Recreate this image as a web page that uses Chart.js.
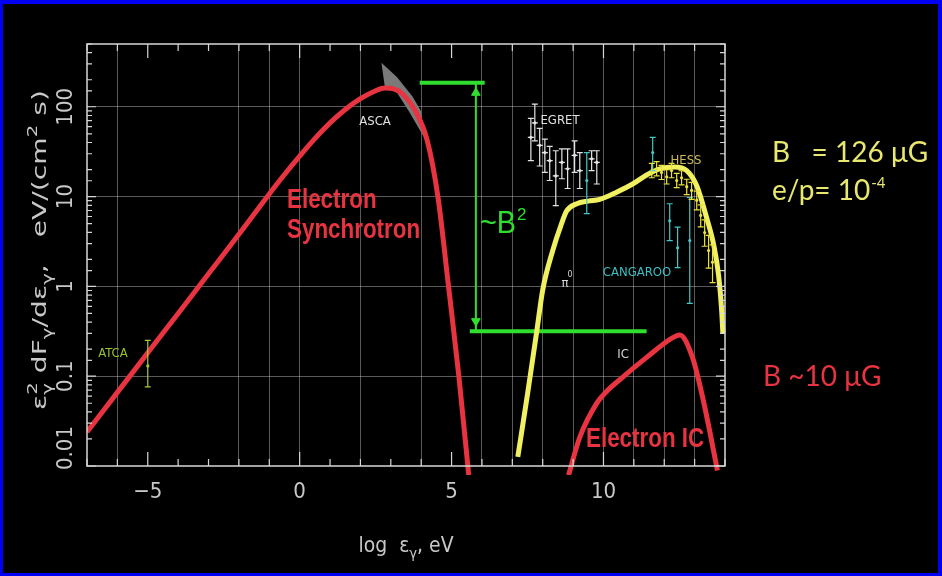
<!DOCTYPE html>
<html>
<head>
<meta charset="utf-8">
<script src="https://cdn.jsdelivr.net/npm/chart.js@4.4.1/dist/chart.umd.min.js"></script>
<style>
  html, body { margin: 0; padding: 0; background: #000; overflow: hidden; }
  canvas { display: block; }
</style>
</head>
<body>
<canvas id="sed" width="942" height="576"></canvas>
<script>
// ---- axes ----
const xMin = -7, xMax = 14;
const yMin = 0.01, yMax = 500;
const xTickLabels = [-5, 0, 5, 10];
const yTickValues = [0.01, 0.1, 1, 10, 100];
const yTickLabels = ['0.01', '0.1', '1', '10', '100'];
const xGridValues = [-6, -2, -1, 0, 2, 4, 6, 7, 8, 9, 10, 11, 12, 13];

// ---- model curves: log photon energy (eV) vs e^2 dF/de (eV/(cm^2 s)) ----
const synchX = [-7.0, -6.0, -5.0, -4.0, -3.0, -2.0, -1.0, -0.5, 0.0, 0.5, 1.0, 1.5, 2.0, 2.5, 2.8, 3.1, 3.4, 3.8, 4.2, 4.55, 4.9, 5.24, 5.58];
const synchY = [0.024, 0.066, 0.182, 0.50, 1.38, 3.8, 10.7, 17.6, 28.2, 44.2, 66.1, 93.3, 123, 151, 162, 158, 138, 91, 42, 10, 1.0, 0.1, 0.007];

const icX = [8.85, 9.22, 9.78, 10.1, 10.53, 11.42, 12.28, 12.51, 12.93, 13.26, 13.49, 13.75];
const icY = [0.0079, 0.0209, 0.0501, 0.0676, 0.0912, 0.162, 0.269, 0.288, 0.162, 0.0589, 0.0251, 0.0089];

const pionX = [7.18, 7.5, 7.8, 8.0, 8.33, 8.6, 8.79, 9.12, 9.5, 9.88, 10.43, 10.96, 11.42, 11.85, 12.34, 12.74, 13.07, 13.39, 13.63, 13.79, 13.89, 13.93];
const pionY = [0.0126, 0.063, 0.309, 0.912, 2.51, 4.79, 6.92, 8.32, 8.91, 9.33, 11.2, 13.8, 17.4, 20.4, 21.4, 19.5, 13.2, 5.89, 2.88, 1.32, 0.537, 0.302];

// ASCA butterfly (closed outline)
const ascaX = [2.69, 3.20, 3.72, 3.99, 4.12, 3.63, 3.20, 2.80, 2.69];
const ascaY = [309, 215, 129, 90, 44, 85, 144, 170, 309];

// ~B^2 gap marker
const b2TopX = [3.95, 6.09], b2TopY = [185, 185];
const b2BottomX = [5.6, 11.42], b2BottomY = [0.316, 0.316];
const b2StemX = [5.8, 5.8], b2StemY = [185, 0.316];
const b2HeadX = [5.8, 5.8], b2HeadY = [143, 0.41];

// ---- measurements ----
const atcaX = [-5.0], atcaY = [0.13], atcaLo = [0.076], atcaHi = [0.25];

const egretX  = [7.61, 7.74, 7.90, 8.07, 8.23, 8.43, 8.63, 8.82, 9.05, 9.22, 9.61, 9.78];
const egretY  = [45.7, 66.1, 37.2, 30.9, 25.1, 17.0, 24.0, 20.4, 28.8, 19.5, 26.3, 24.0];
const egretLo = [25.1, 41.7, 21.9, 18.6, 15.1, 7.94, 15.8, 12.3, 18.6, 12.3, 19.5, 13.8];
const egretHi = [74.1, 107, 57.5, 43.7, 36.3, 32.4, 33.9, 33.9, 41.7, 30.9, 32.4, 32.4];

const cangX  = [9.45, 11.62, 12.18, 12.44, 12.84];
const cangY  = [15.1, 30.9, 5.37, 2.69, 3.24];
const cangLo = [6.46, 19.5, 3.24, 1.62, 0.646];
const cangHi = [30.9, 45.7, 8.32, 4.57, 9.77];

const hessX  = [11.59, 11.75, 11.91, 12.08, 12.24, 12.41, 12.57, 12.74, 12.90, 13.07, 13.20, 13.33, 13.46, 13.59];
const hessY  = [19.5, 20.4, 18.6, 16.6, 19.5, 15.1, 16.2, 12.9, 11.7, 9.12, 6.17, 3.98, 2.51, 1.86];
const hessLo = [16.2, 17.0, 15.5, 13.8, 16.2, 12.6, 13.5, 10.5, 9.3, 7.1, 4.6, 2.8, 1.6, 1.1];
const hessHi = [23.4, 24.5, 22.3, 19.9, 23.4, 18.1, 19.4, 15.6, 14.4, 11.5, 8.1, 5.5, 3.7, 2.9];

const pts = (xs, ys) => xs.map((x, i) => ({ x, y: ys[i] }));

// ---- colours & fonts ----
const RED = 'rgb(232,52,64)';
const YELLOW = 'rgb(240,240,96)';
const GREEN = 'rgb(48,222,48)';
const AXIS = 'rgb(200,200,200)';
const NARROW = '"Liberation Sans Narrow", "DejaVu Sans Condensed", "Liberation Sans", sans-serif';
const PARAM = 'Lato, "Open Sans", sans-serif';

function isDecade(v) {
  const l = Math.log10(v);
  return Math.abs(l - Math.round(l)) < 1e-6;
}

function putText(ctx, s, x, y, o) {
  ctx.save();
  ctx.font = o.font;
  ctx.fillStyle = o.color;
  ctx.textAlign = o.align || 'left';
  ctx.textBaseline = o.base || 'alphabetic';
  ctx.translate(x, y);
  if (o.sx) ctx.scale(o.sx, 1);
  ctx.fillText(s, 0, 0);
  const w = ctx.measureText(s).width * (o.sx || 1);
  ctx.restore();
  return w;
}

// rich text run along the current x direction; segs: {t, s(0 base, 1 sup, -1 sub), stack}
function richRun(ctx, segs, size, family, length) {
  const small = size * 0.7;
  let w = 0;
  const laid = [];
  for (const g of segs) {
    ctx.font = (g.s ? small : size) + 'px ' + family;
    const m = ctx.measureText(g.t).width;
    if (g.stack) {
      const prev = laid[laid.length - 1];
      laid.push({ ...g, x: prev.x });
      w = Math.max(w, prev.x + m);
    } else {
      laid.push({ ...g, x: w });
      w += m;
    }
  }
  const k = length ? length / w : 1;
  ctx.save();
  ctx.scale(k, 1);
  ctx.translate(-w / 2, 0);
  for (const g of laid) {
    ctx.font = (g.s ? small : size) + 'px ' + family;
    const dy = g.s === 1 ? -size * 0.45 : g.s === -1 ? size * 0.3 : 0;
    ctx.fillText(g.t, g.x, dy);
  }
  ctx.restore();
}

const decor = {
  id: 'decor',
  beforeDraw(chart) {
    const { ctx, width, height } = chart;
    ctx.save();
    ctx.fillStyle = '#0000f4';
    ctx.fillRect(0, 0, width, height);
    ctx.fillStyle = '#000';
    ctx.fillRect(3, 4, width - 7, height - 7);
    ctx.restore();
  },
  afterDatasetsDraw(chart) {
    const { ctx } = chart;
    const xs = chart.scales.x, ys = chart.scales.y;
    ctx.save();
    chart.data.datasets.forEach(ds => {
      if (!ds.errLo) return;
      ctx.strokeStyle = ds.borderColor;
      ctx.lineWidth = 1.2;
      ds.data.forEach((p, i) => {
        const px = xs.getPixelForValue(p.x);
        const py = ys.getPixelForValue(p.y);
        const lo = ys.getPixelForValue(ds.errLo[i]);
        const hi = ys.getPixelForValue(ds.errHi[i]);
        ctx.beginPath();
        ctx.moveTo(px, lo); ctx.lineTo(px, hi);
        ctx.moveTo(px - 3, lo); ctx.lineTo(px + 3, lo);
        ctx.moveTo(px - 3, hi); ctx.lineTo(px + 3, hi);
        if (ds.binHalf) {
          const a = xs.getPixelForValue(p.x - ds.binHalf), b = xs.getPixelForValue(p.x + ds.binHalf);
          ctx.moveTo(a, py); ctx.lineTo(b, py);
        }
        ctx.stroke();
      });
    });
    ctx.restore();
  },
  afterDraw(chart) {
    const { ctx, chartArea: a } = chart;
    const xs = chart.scales.x, ys = chart.scales.y;
    ctx.save();

    // frame
    ctx.strokeStyle = 'rgb(215,215,215)';
    ctx.lineWidth = 1.5;
    ctx.strokeRect(a.left, a.top, a.right - a.left, a.bottom - a.top);

    // inward ticks
    ctx.lineWidth = 1.2;
    ctx.beginPath();
    xs.ticks.forEach(t => {
      const px = xs.getPixelForValue(t.value);
      const len = xTickLabels.includes(t.value) ? 14 : 7;
      ctx.moveTo(px, a.bottom); ctx.lineTo(px, a.bottom - len);
      ctx.moveTo(px, a.top); ctx.lineTo(px, a.top + len);
    });
    ys.ticks.forEach(t => {
      const py = ys.getPixelForValue(t.value);
      const len = isDecade(t.value) ? 9 : 5;
      ctx.moveTo(a.left, py); ctx.lineTo(a.left + len, py);
      ctx.moveTo(a.right, py); ctx.lineTo(a.right - len, py);
    });
    ctx.stroke();

    // x tick labels
    xTickLabels.forEach(v => {
      putText(ctx, String(v).replace('-', '\u2212'), xs.getPixelForValue(v), a.bottom + 15,
        { font: '22px ' + NARROW, color: AXIS, align: 'center', base: 'top' });
    });

    // y tick labels, written upward
    ctx.font = '22px ' + NARROW;
    yTickValues.forEach((v, i) => {
      let py = ys.getPixelForValue(v);
      const half = ctx.measureText(yTickLabels[i]).width / 2;
      if (py + half > a.bottom + 4) py = a.bottom + 4 - half;
      ctx.save();
      ctx.translate(a.left - 21, py);
      ctx.rotate(-Math.PI / 2);
      ctx.fillStyle = AXIS;
      ctx.textAlign = 'center';
      ctx.textBaseline = 'middle';
      ctx.fillText(yTickLabels[i], 0, 0);
      ctx.restore();
    });

    // y title
    ctx.save();
    ctx.fillStyle = AXIS;
    ctx.translate(46, 250);
    ctx.rotate(-Math.PI / 2);
    richRun(ctx, [
      { t: '\u03b5', s: 0 }, { t: '2', s: 1 }, { t: '\u03b3', s: -1, stack: true },
      { t: ' dF', s: 0 }, { t: '\u03b3', s: -1 }, { t: '/d\u03b5', s: 0 }, { t: '\u03b3', s: -1 },
      { t: ',   eV/(cm', s: 0 }, { t: '2', s: 1 }, { t: ' s)', s: 0 }
    ], 19, NARROW, 320);
    ctx.restore();

    // x title
    ctx.save();
    ctx.fillStyle = AXIS;
    ctx.translate(406, 552);
    richRun(ctx, [
      { t: 'log  \u03b5', s: 0 }, { t: '\u03b3', s: -1 }, { t: ', eV', s: 0 }
    ], 21, NARROW, 95);
    ctx.restore();

    // instrument labels
    const small = '13px ' + NARROW;
    const lab = (s, x, y, c) => putText(ctx, s, x, y, { font: small, color: c, align: 'center', base: 'middle' });
    lab('ASCA', 375, 122, 'rgb(225,225,225)');
    lab('EGRET', 560, 121, 'rgb(225,225,225)');
    lab('HESS', 686, 161, 'rgb(205,185,90)');
    lab('CANGAROO', 637, 273, 'rgb(60,190,195)');
    lab('IC', 623, 355, 'rgb(215,215,215)');
    lab('ATCA', 113, 354, 'rgb(150,195,45)');
    putText(ctx, '\u03c0', 565, 284, { font: '13px ' + NARROW, color: 'rgb(215,215,215)', align: 'center', base: 'middle' });
    putText(ctx, '0', 570, 275, { font: '9px ' + NARROW, color: 'rgb(215,215,215)', align: 'center', base: 'middle' });

    // curve names
    const boldRed = { font: 'bold 28px "Liberation Sans", Arial, sans-serif', color: RED, sx: 0.8 };
    putText(ctx, 'Electron', 287, 208, boldRed);
    putText(ctx, 'Synchrotron', 287, 238, boldRed);
    putText(ctx, 'Electron IC', 586, 447, boldRed);

    // ~B^2
    const bw = putText(ctx, '~B', 480, 233, { font: '32px "Liberation Sans", sans-serif', color: GREEN, sx: 0.9 });
    putText(ctx, '2', 480 + bw + 1, 220, { font: '17px "Liberation Sans", sans-serif', color: GREEN });

    // parameters
    const paramColor = 'rgb(232,232,112)';
    putText(ctx, 'B   = 126 \u03bcG', 772, 162, { font: '28px ' + PARAM, color: paramColor });
    const ew = putText(ctx, 'e/p= 10', 772, 200, { font: '28px ' + PARAM, color: paramColor });
    putText(ctx, '-4', 772 + ew + 1, 188, { font: '15px ' + PARAM, color: paramColor });
    putText(ctx, 'B ~10 \u03bcG', 763, 386, { font: '28px ' + PARAM, color: RED });

    ctx.restore();
  }
};

const lineStyle = (color, width) => ({
  borderColor: color, backgroundColor: color, borderWidth: width,
  pointRadius: 0, showLine: true, fill: false, cubicInterpolationMode: 'monotone'
});

const errStyle = (color) => ({
  borderColor: color, backgroundColor: color, showLine: false,
  pointRadius: 1.6, pointBorderWidth: 0
});

new Chart(document.getElementById('sed'), {
  type: 'line',
  data: {
    datasets: [
      { ...lineStyle(RED, 5), data: pts(synchX, synchY), order: 1, clip: { left: 0, top: 5, right: 3, bottom: 9 } },
      { ...lineStyle(RED, 5), data: pts(icX, icY), order: 1, clip: { left: 0, top: 5, right: 3, bottom: 9 } },
      { ...lineStyle(YELLOW, 5), data: pts(pionX, pionY), order: 2, clip: { left: 0, top: 5, right: 3, bottom: 3 } },
      { borderColor: 'rgba(0,0,0,0)', borderWidth: 0, backgroundColor: 'rgb(122,122,122)', pointRadius: 0,
        showLine: true, fill: 'shape', tension: 0, data: pts(ascaX, ascaY), order: 6 },
      { ...lineStyle(GREEN, 4), tension: 0, data: pts(b2TopX, b2TopY), order: 3 },
      { ...lineStyle(GREEN, 4), tension: 0, data: pts(b2BottomX, b2BottomY), order: 3 },
      { ...lineStyle(GREEN, 2), tension: 0, data: pts(b2StemX, b2StemY), order: 3 },
      { borderColor: GREEN, backgroundColor: GREEN, showLine: false, pointStyle: 'triangle',
        pointRadius: 5, pointRotation: [0, 180], data: pts(b2HeadX, b2HeadY), order: 3 },
      { ...errStyle('rgb(228,228,228)'), data: pts(egretX, egretY), errLo: egretLo, errHi: egretHi, binHalf: 0.1, order: 4 },
      { ...errStyle('rgb(70,200,200)'), data: pts(cangX, cangY), errLo: cangLo, errHi: cangHi, order: 4 },
      { ...errStyle('rgb(235,225,60)'), data: pts(hessX, hessY), errLo: hessLo, errHi: hessHi, order: 0 },
      { ...errStyle('rgb(170,200,50)'), data: pts(atcaX, atcaY), errLo: atcaLo, errHi: atcaHi, order: 0 }
    ]
  },
  options: {
    responsive: false,
    animation: false,
    events: [],
    layout: { padding: { left: 87, top: 44, right: 217, bottom: 110 } },
    plugins: { legend: { display: false }, tooltip: { enabled: false } },
    scales: {
      x: {
        type: 'linear', min: xMin, max: xMax,
        ticks: { display: false, stepSize: 1 },
        border: { display: false },
        grid: {
          drawTicks: false, lineWidth: 1,
          color: c => (c.tick && xGridValues.includes(c.tick.value)) ? 'rgba(200,200,200,0.45)' : 'rgba(0,0,0,0)'
        }
      },
      y: {
        type: 'logarithmic', min: yMin, max: yMax,
        ticks: { display: false },
        border: { display: false },
        grid: {
          drawTicks: false, lineWidth: 1,
          color: c => (c.tick && isDecade(c.tick.value) && c.tick.value > yMin) ? 'rgba(200,200,200,0.45)' : 'rgba(0,0,0,0)'
        }
      }
    }
  },
  plugins: [decor]
});
</script>
</body>
</html>
